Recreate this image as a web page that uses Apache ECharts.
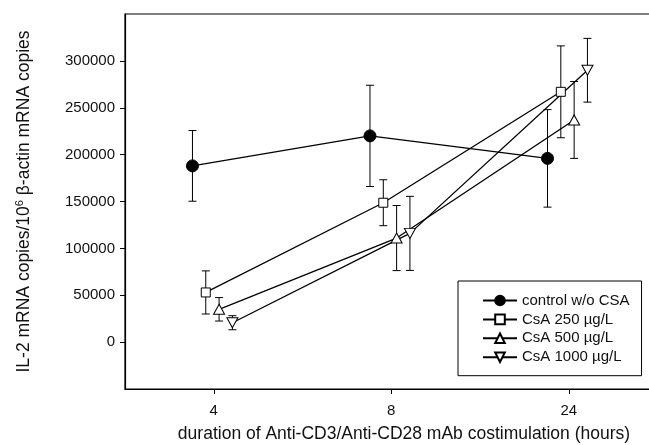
<!DOCTYPE html>
<html><head><meta charset="utf-8">
<script src="https://cdn.jsdelivr.net/npm/echarts@6/dist/echarts.min.js"></script>
<style>html,body{margin:0;padding:0;background:#fff}#c{width:649px;height:445px}</style>
</head><body><div id="c"></div>
<script>
// ---- data ----
const timeLabels = ['4', '8', '24'];
const timePos = [1, 2, 3];
const seriesNames = ['control w/o CSA', 'CsA 250 µg/L', 'CsA 500 µg/L', 'CsA 1000 µg/L'];
const controlMean = [188000, 220000, 196000];
const controlErr  = [37700, 54000, 52000];
const csa250Mean  = [53000, 148700, 267000];
const csa250Err   = [23000, 24500, 49000];
const csa500Mean  = [35000, 111000, 237000];
const csa500Err   = [12500, 34700, 41000];
const csa1000Mean = [20700, 116000, 290000];
const csa1000Err  = [7500, 39500, 34000];
const yTickValues = [0, 50000, 100000, 150000, 200000, 250000, 300000];
const dodge = [-0.12, -0.045, 0.03, 0.105];

const FONT = "'Liberation Sans', Arial, Helvetica, sans-serif";
const INK = '#111';

const means = [controlMean, csa250Mean, csa500Mean, csa1000Mean];
const errs = [controlErr, csa250Err, csa500Err, csa1000Err];
const symbols = ['circle', 'rect', 'triangle', 'triangle'];
const symSizes = [12, 9, [11, 10], [11, 10]];
const symRot = [0, 0, 0, 180];
const fills = ['#000', '#fff', '#fff', '#fff'];

const series = [];
means.forEach((m, s) => {
  series.push({
    type: 'custom',
    silent: true,
    z: 1,
    renderItem: function (params, api) {
      const x = api.value(0), lo = api.value(1), hi = api.value(2);
      const p1 = api.coord([x, lo]), p2 = api.coord([x, hi]);
      const w = 4;
      const st = { stroke: '#000', lineWidth: 1 };
      return { type: 'group', children: [
        { type: 'line', shape: { x1: p1[0], y1: p1[1], x2: p2[0], y2: p2[1] }, style: st },
        { type: 'line', shape: { x1: p1[0] - w, y1: p1[1], x2: p1[0] + w, y2: p1[1] }, style: st },
        { type: 'line', shape: { x1: p2[0] - w, y1: p2[1], x2: p2[0] + w, y2: p2[1] }, style: st }
      ]};
    },
    encode: { x: 0, y: [1, 2] },
    data: m.map((v, i) => [timePos[i] + dodge[s], v - errs[s][i], v + errs[s][i]])
  });
});
means.forEach((m, s) => {
  series.push({
    name: seriesNames[s],
    type: 'line',
    z: 3,
    symbol: symbols[s],
    symbolSize: symSizes[s],
    symbolRotate: symRot[s],
    showAllSymbol: true,
    lineStyle: { color: '#000', width: 1.3 },
    itemStyle: { color: fills[s], borderColor: '#000', borderWidth: 1 },
    emphasis: { disabled: true },
    data: m.map((v, i) => [timePos[i] + dodge[s], v])
  });
});

const chart = echarts.init(document.getElementById('c'), null, { renderer: 'canvas' });
chart.setOption({
  animation: false,
  backgroundColor: '#fff',
  textStyle: { fontFamily: FONT, color: INK },
  grid: { left: 125, top: 14, right: -2, bottom: 56, show: true, containLabel: false, outerBoundsMode: 'none',
    borderColor: '#000', borderWidth: 1.2, backgroundColor: 'transparent' },
  legend: {
    data: seriesNames,
    orient: 'vertical',
    left: 458, top: 281,
    backgroundColor: '#fff',
    borderColor: '#000', borderWidth: 1, borderRadius: 0,
    padding: [12, 12, 11, 24],
    itemWidth: 34, itemHeight: 12, itemGap: 3.9,
    textStyle: { fontFamily: FONT, fontSize: 15, color: INK },
    selectedMode: false
  },
  xAxis: {
    type: 'value', min: 0.5, max: 3.463,
    name: 'duration of Anti-CD3/Anti-CD28 mAb costimulation (hours)',
    nameLocation: 'middle', nameGap: 36,
    nameTextStyle: { fontFamily: FONT, fontSize: 17.5, color: INK, padding: [0, 0, 0, 32] },
    axisLine: { show: true, onZero: false, lineStyle: { color: '#000', width: 1.2 } },
    axisTick: { show: true, length: 5, inside: false, lineStyle: { color: '#000' }, customValues: timePos },
    axisLabel: { customValues: timePos, margin: 14, fontSize: 15, color: INK, fontFamily: FONT,
      formatter: v => timeLabels[timePos.indexOf(v)] },
    splitLine: { show: false }
  },
  yAxis: {
    type: 'value', min: -50000, max: 350000, interval: 50000,
    name: 'IL-2 mRNA copies/10{sup|6} β-actin mRNA copies',
    nameLocation: 'middle', nameGap: 91, nameRotate: 90,
    nameTextStyle: { fontFamily: FONT, fontSize: 17.5, color: INK, lineHeight: 20,
      rich: { sup: { fontFamily: FONT, fontSize: 11, lineHeight: 11, verticalAlign: 'top', color: INK } } },
    axisLine: { show: true, onZero: false, lineStyle: { color: '#000', width: 1.2 } },
    axisTick: { show: true, length: 5, inside: false, lineStyle: { color: '#000' }, customValues: yTickValues },
    axisLabel: { customValues: yTickValues, margin: 10, fontSize: 15, color: INK, fontFamily: FONT,
      formatter: v => String(v) },
    splitLine: { show: false }
  },
  series: series
});
</script>
</body></html>
